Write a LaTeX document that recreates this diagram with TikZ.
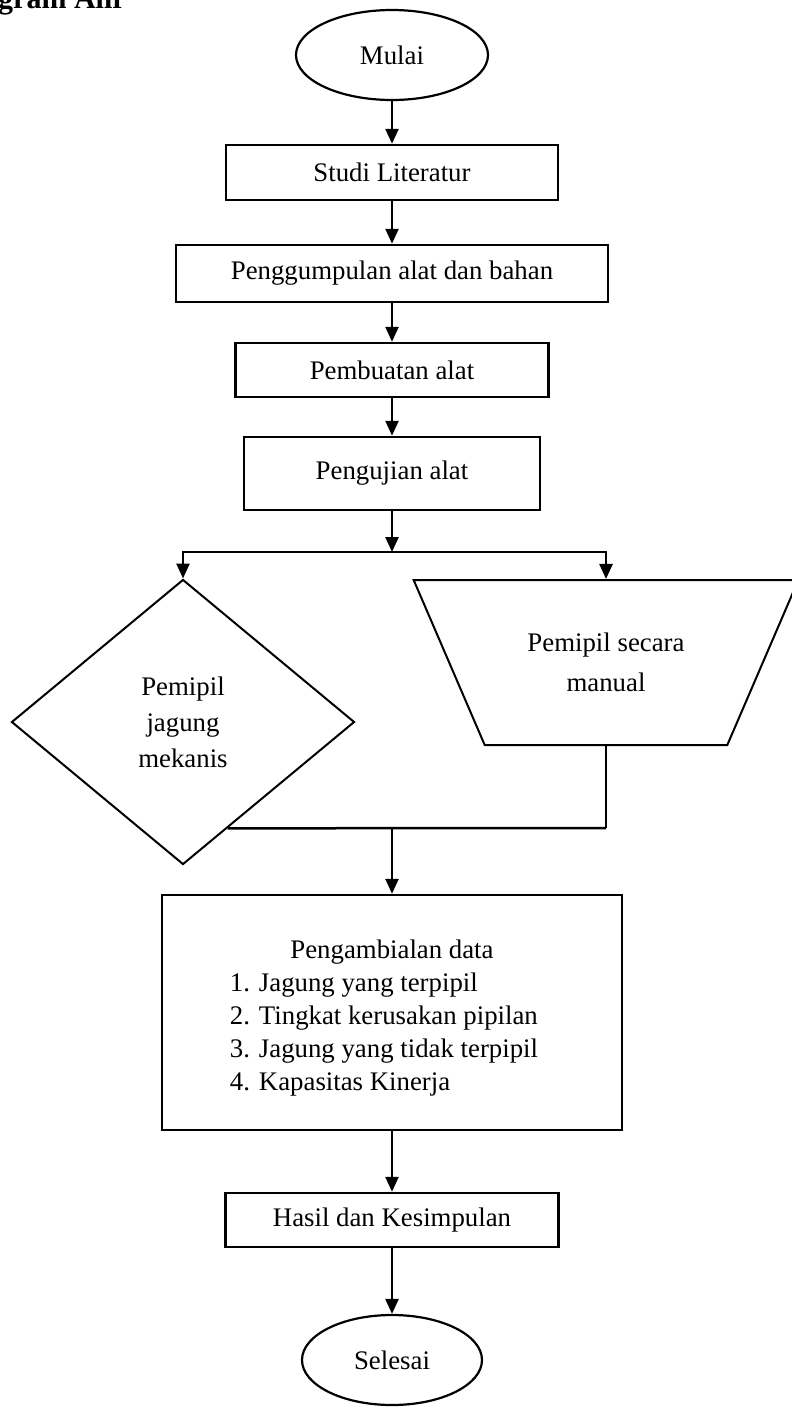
\documentclass[tikz,border=0pt]{standalone}
\usepackage{fontspec}
\setmainfont{Liberation Serif}
\usetikzlibrary{shapes.geometric, arrows.meta, positioning, calc}

\begin{document}
\begin{tikzpicture}[
    x=1pt, y=-1pt,
    font=\fontsize{26.8}{33}\selectfont,
    box/.style={draw, line width=2.5pt, align=center, inner sep=0pt},
    term/.style={draw, ellipse, line width=2.2pt, align=center, inner sep=0pt},
    dec/.style={draw, diamond, line width=2pt, align=center, inner sep=0pt,
                font=\fontsize{26.8}{36}\selectfont},
    trap/.style={draw, trapezium, shape border rotate=180, trapezium left angle=52,
                 trapezium right angle=52, trapezium stretches=true,
                 line width=2pt, align=center, inner sep=0pt},
    arr/.style={-{Triangle[length=15pt, width=13pt]}, line width=2.5pt},
    garis/.style={line width=2.5pt},
]
    \useasboundingbox (0,0) rectangle (792,1409);

    % Nodes
    \node[font=\bfseries\fontsize{30}{36}\selectfont, anchor=base west, inner sep=0pt]
        (judul) at (-2,8) {gram Alir};
    \node[term, minimum width=192, minimum height=90] (mulai) at (392,55) {Mulai};
    \node[box, minimum width=332, minimum height=55] (studi) at (392,172.5) {Studi Literatur};
    \node[box, minimum width=432, minimum height=57] (kumpul) at (392,273.5) {Penggumpulan alat dan bahan};
    \node[box, minimum width=313, minimum height=54] (buat) at (392,370) {Pembuatan alat};
    \node[box, minimum width=296, minimum height=73] (uji) at (392,473.5) {Pengujian alat};
    \coordinate (bagi) at (392,552);
    \node[dec, minimum width=343, minimum height=285] (mekanis) at (183,722) {Pemipil\\jagung\\mekanis};
    \node[trap, minimum width=385, minimum height=165] (manual) at (606,662.5) {Pemipil secara\\[7pt]manual};
    \coordinate (gabung) at (392,828);
    \coordinate (ujung) at ($(mekanis.east)!0.741!(mekanis.south)$);
    \node[box, minimum width=460, minimum height=235] (data) at (392,1012.5)
        {\rule{0pt}{34pt}Pengambialan data\\
         \hspace*{-16pt}\begin{tabular}[t]{@{}l@{}}
         1. Jagung yang terpipil\\
         2. Tingkat kerusakan pipilan\\
         3. Jagung yang tidak terpipil\\
         4. Kapasitas Kinerja
         \end{tabular}};
    \node[box, minimum width=333, minimum height=54] (hasil) at (392,1220) {Hasil dan Kesimpulan};
    \node[term, minimum width=180, minimum height=90] (selesai) at (392,1360) {Selesai};

    % Arrows
    \draw[arr] (mulai) -- (studi);
    \draw[arr] (studi) -- (kumpul);
    \draw[arr] (kumpul) -- (buat);
    \draw[arr] (buat) -- (uji);
    \draw[arr] (uji) -- (bagi);
    \draw[arr] (bagi) -| (mekanis.north);
    \draw[arr] (bagi) -| (manual.north);
    \draw[line width=1.2pt] (manual.south) -- (manual.south |- gabung);
    \draw[garis] (manual.south |- gabung) -- (ujung);
    \draw[arr] (gabung) -- (data);
    \draw[arr] (data) -- (hasil);
    \draw[arr] (hasil) -- (selesai);
\end{tikzpicture}
\end{document}
